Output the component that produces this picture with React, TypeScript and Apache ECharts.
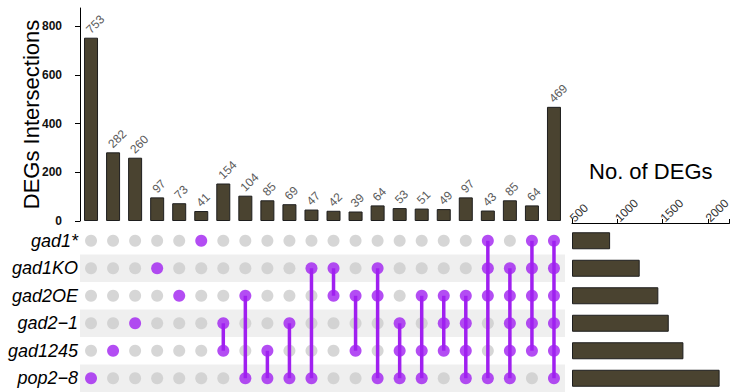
import React, { useEffect, useRef } from 'react';
import * as echarts from 'echarts';

const setNames = ['gad1*', 'gad1KO', 'gad2OE', 'gad2\u22121', 'gad1245', 'pop2\u22128'];
const setSizes = [921, 1248, 1454, 1569, 1731, 2131];
const intersectionSizes = [753, 282, 260, 97, 73, 41, 154, 104, 85, 69, 47, 42, 39, 64, 53, 51, 49, 97, 43, 85, 64, 469];
const intersectionMembers: number[][] = [
  [5], [4], [3], [1], [2], [0],
  [3, 4], [2, 5], [4, 5], [3, 5], [1, 5], [1, 2], [2, 4],
  [1, 2, 5], [3, 4, 5], [2, 4, 5], [2, 3, 4],
  [2, 3, 4, 5], [0, 1, 2, 5],
  [1, 2, 3, 4, 5], [0, 1, 2, 3, 4],
  [0, 1, 2, 3, 4, 5],
];
const setTicks = [500, 1000, 1500, 2000];

const BAR_COLOR = '#4a4330';
const PURPLE = '#a020f0';
const FONT = 'Liberation Sans, Arial, sans-serif';

export default function App() {
  const ref = useRef<HTMLDivElement>(null);
  useEffect(() => {
    if (!ref.current) return;
    const chart = echarts.init(ref.current, undefined, { renderer: 'svg' });
    const cols = intersectionSizes.map((_, i) => 'I' + (i + 1));
    const greyDots: number[][] = [];
    const purpleDots: number[][] = [];
    const segs: number[][] = [];
    intersectionMembers.forEach((m, c) => {
      for (let r = 0; r < setNames.length; r++) {
        if (m.includes(r)) purpleDots.push([c, r]);
        else greyDots.push([c, r]);
      }
      if (m.length > 1) segs.push([c, Math.min(...m), Math.max(...m)]);
    });
    // label offsets are in the rotated text frame: along text, then perpendicular
    const barItems = intersectionSizes.map((v) => {
      const n = String(v).length;
      return { value: v, label: { offset: [2.5 + 3.33 * n, -6.5] } };
    });
    chart.setOption({
      animation: false,
      textStyle: { fontFamily: FONT },
      grid: [
        { left: 80, top: 8, width: 485, height: 213 },
        { left: 80, top: 227, width: 485, height: 166 },
        { left: 572, top: 227, width: 161, height: 166 },
      ],
      xAxis: [
        { type: 'category', gridIndex: 0, data: cols, show: false },
        { type: 'category', gridIndex: 1, data: cols, show: false },
        {
          type: 'value', gridIndex: 2, position: 'top', min: 500, max: 2240, interval: 500,
          startValue: 500, offset: 4,
          axisLine: { show: true, lineStyle: { color: '#000', width: 1 } },
          axisTick: { show: true, length: 4, lineStyle: { color: '#000' } },
          axisLabel: {
            rotate: -45, fontSize: 12, color: '#333', margin: 3,
            formatter: (v: number) => (setTicks.includes(v) ? String(v) : ''),
          },
          splitLine: { show: false },
          name: 'No. of DEGs', nameLocation: 'middle', nameGap: 41,
          nameTextStyle: { fontSize: 22, color: '#000' },
        },
      ],
      yAxis: [
        {
          type: 'value', gridIndex: 0, min: 0, max: 875, interval: 200,
          axisLine: { show: true, lineStyle: { color: '#000', width: 1 } },
          axisTick: { show: true, length: 5, lineStyle: { color: '#000' } },
          axisLabel: { fontSize: 12, fontWeight: 'bold', color: '#111', margin: 18, showMaxLabel: false },
          splitLine: { show: false },
          name: 'DEGs Intersections', nameLocation: 'middle', nameGap: 38, nameMoveOverlap: false,
          nameTextStyle: { fontSize: 22, color: '#000' },
        },
        {
          type: 'category', gridIndex: 1, data: setNames, inverse: true,
          axisLine: { show: false }, axisTick: { show: false },
          axisLabel: { fontSize: 18, fontStyle: 'italic', color: '#000', margin: 2 },
          splitArea: { show: true, areaStyle: { color: ['rgba(0,0,0,0)', '#efefef'] } },
        },
        { type: 'category', gridIndex: 2, data: setNames, inverse: true, show: false },
      ],
      series: [
        {
          type: 'bar', xAxisIndex: 0, yAxisIndex: 0, data: barItems, barWidth: 14,
          itemStyle: { color: BAR_COLOR, borderColor: '#1e1e1e', borderWidth: 1 },
          label: {
            show: true, position: 'top', rotate: 45, align: 'center', verticalAlign: 'middle',
            distance: 0, fontSize: 12, color: '#5a5a5a',
          },
        },
        {
          type: 'scatter', xAxisIndex: 1, yAxisIndex: 1, data: greyDots, symbolSize: 12,
          itemStyle: { color: '#cccccc' }, z: 2,
        },
        {
          type: 'custom', xAxisIndex: 1, yAxisIndex: 1, data: segs, z: 3,
          renderItem: (_params: any, api: any) => {
            const p1 = api.coord([api.value(0), api.value(1)]);
            const p2 = api.coord([api.value(0), api.value(2)]);
            return {
              type: 'line',
              shape: { x1: p1[0], y1: p1[1], x2: p2[0], y2: p2[1] },
              style: { stroke: PURPLE, lineWidth: 3.5 },
            };
          },
        },
        {
          type: 'scatter', xAxisIndex: 1, yAxisIndex: 1, data: purpleDots, symbolSize: 12,
          itemStyle: { color: PURPLE }, z: 4,
        },
        {
          type: 'bar', xAxisIndex: 2, yAxisIndex: 2, data: setSizes, barWidth: 17,
          itemStyle: { color: BAR_COLOR, borderColor: '#1e1e1e', borderWidth: 1 },
        },
      ],
    });
    return () => chart.dispose();
  }, []);
  return (
    <div
      ref={ref}
      style={{ position: 'fixed', left: 0, top: 0, width: 733, height: 392, background: '#fff' }}
    />
  );
}
